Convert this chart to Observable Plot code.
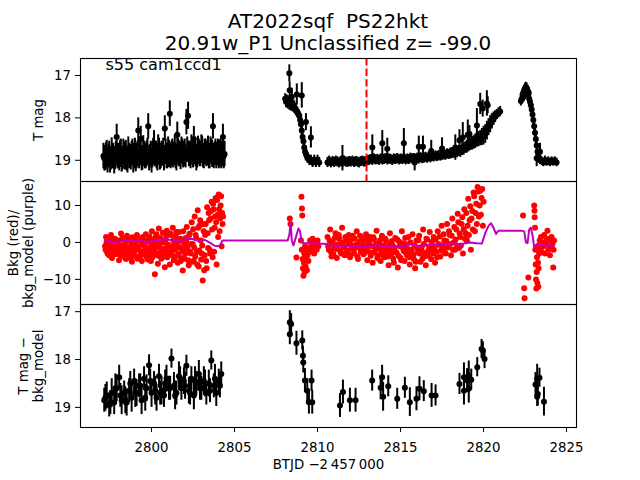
<!DOCTYPE html>
<html><head><meta charset="utf-8">
<script src="https://cdn.jsdelivr.net/npm/d3@7"></script>
<script src="https://cdn.jsdelivr.net/npm/@observablehq/plot@0.6"></script>
<style>
body{margin:0;background:#fff}
#fig{position:relative;width:640px;height:480px;font-family:"DejaVu Sans",sans-serif;color:#000;overflow:hidden}
.t{position:absolute;left:0;width:656px;text-align:center;font-size:20px;line-height:22px;white-space:pre}
.p{position:absolute;left:0}
</style></head><body>
<div id="fig"></div>
<script>
// ---------- text ----------
const titleLines = ["AT2022sqf  PS22hkt", "20.91w_P1 Unclassified z= -99.0"];
const panelNote = "s55 cam1ccd1";
const yLabels = ["T mag", "Bkg (red)/\nbkg_model (purple)", "T mag \u2212\nbkg_model"];
const xLabel = "BTJD \u22122\u2009457\u2009000";
const xTicks = [2800, 2805, 2810, 2815, 2820, 2825];
const ticksTop = [17, 18, 19];
const ticksMid = [-10, 0, 10];
const ticksBot = [17, 18, 19];
const discoveryT = 2812.95;

// ---------- top panel: T mag (regular cadence segments: [mag, err]) ----------
const topA_t0 = 2797.1, topA_dt = 0.1;
const topA = [[18.9,.3],[18.95,.3],[18.85,.32],[18.9,.28],[19.0,.3],[18.8,.33],[18.9,.3],[18.95,.27],[18.45,.3],[18.9,.3],[18.85,.32],
[19.0,.28],[18.8,.3],[18.9,.33],[18.95,.3],[18.75,.3],[18.9,.27],[18.85,.3],[19.0,.3],[18.8,.32],[18.9,.3],
[18.3,.3],[18.85,.28],[18.95,.3],[18.75,.33],[18.9,.3],[18.85,.3],[18.2,.3],[18.9,.28],[19.0,.3],[18.8,.32],
[18.85,.3],[18.9,.3],[18.7,.3],[18.95,.28],[18.85,.3],[18.8,.32],[18.25,.3],[18.9,.3],[18.75,.3],[17.9,.3],
[18.85,.3],[18.9,.28],[18.7,.3],[18.95,.3],[18.8,.32],[18.85,.3],[18.75,.3],[18.9,.28],[18.8,.3],[18.1,.3],
[17.95,.32],[18.85,.3],[18.7,.3],[18.9,.28],[18.8,.3],[18.95,.3],[18.75,.32],[18.85,.3],[18.7,.3],[18.9,.28],
[18.8,.3],[18.85,.3],[18.75,.32],[18.9,.3],[18.8,.3],[18.2,.3],[18.85,.28],[18.9,.3],[18.8,.3],[18.85,.32],
[18.9,.3],[18.45,.3],[18.85,.3]];
const topA2_t0 = 2797.15, topA2_dt = 0.1;
const topA2 = [[18.95,.3],[18.9,.32],[19.0,.3],[18.85,.3],[18.95,.28],[18.9,.3],[19.0,.32],[18.85,.3],[18.9,.3],[18.95,.3],
[18.8,.3],[18.95,.28],[18.9,.3],[18.85,.32],[19.0,.3],[18.9,.3],[18.95,.28],[18.8,.3],[18.9,.3],[18.95,.32],
[18.85,.3],[18.9,.3],[18.5,.3],[18.95,.28],[18.85,.3],[18.9,.3],[18.8,.32],[18.95,.3],[18.85,.3],[18.9,.28],
[18.6,.3],[18.85,.3],[18.95,.3],[18.8,.32],[18.9,.3],[18.85,.28],[18.95,.3],[18.8,.3],[18.9,.3],[18.85,.32],
[18.9,.3],[18.8,.3],[18.85,.28],[18.9,.3],[18.4,.3],[18.85,.3],[18.9,.32],[18.8,.3],[18.85,.3],[18.9,.28],
[18.75,.3],[18.85,.3],[18.9,.3],[18.8,.32],[18.5,.3],[18.85,.3],[18.9,.28],[18.8,.3],[18.85,.3],[18.75,.32],
[18.9,.3],[18.8,.3],[18.85,.28],[18.9,.3],[18.75,.3],[18.85,.32],[18.9,.3],[18.8,.3],[18.85,.28],[18.9,.3],
[18.8,.3],[18.85,.3],[18.9,.3]];
const topC_t0 = 2810.6, topC_dt = 0.1;
const topC = [[19.05,.12],[19.02,.12],[19.06,.12],[19.03,.12],[19.05,.12],[19.02,.12],[19.04,.12],[19.06,.12],[19.03,.12],[19.05,.12],
[19.02,.12],[19.04,.12],[19.05,.12],[19.03,.12],[19.04,.12],[19.02,.12],[19.05,.12],[19.03,.12],[19.04,.12],[19.06,.12],
[19.03,.12],[19.02,.12],[19.04,.12],[19.03,.12],[19.01,.12],[19.0,.12],[18.98,.12],[19.0,.12],[18.97,.12],[18.99,.12],
[18.98,.12],[19.0,.12],[18.97,.12],[18.99,.12],[18.98,.12],[18.96,.12],[18.99,.12],[18.97,.12],[18.98,.12],[19.0,.12],
[18.97,.12],[18.98,.12],[18.96,.12],[18.99,.12],[18.97,.12],[18.98,.12],[18.96,.12],[18.99,.12],[18.97,.12],[18.98,.12],
[18.95,.12],[18.97,.12],[18.96,.12],[18.98,.12],[18.95,.12],[18.97,.12],[18.94,.12],[18.96,.12],[18.95,.12],[18.93,.12],
[18.95,.12],[18.92,.12],[18.94,.12],[18.91,.12],[18.92,.12],[18.9,.12],[18.91,.12],[18.89,.12],[18.9,.12],[18.88,.12],
[18.87,.12],[18.88,.12],[18.85,.12],[18.86,.12],[18.84,.13],[18.83,.13],[18.82,.13],[18.8,.13],[18.81,.13],[18.78,.13],
[18.79,.14],[18.75,.14],[18.74,.14],[18.7,.14],[18.68,.15],[18.65,.15],[18.62,.15],[18.6,.16],[18.58,.16],[18.55,.17],
[18.52,.17],[18.5,.18],[18.48,.18],[18.45,.2],[18.42,.22],[18.38,.22],[18.3,.22],[18.22,.2],[18.15,.2],[18.08,.18],
[18.02,.16],[17.97,.14],[17.92,.12],[17.88,.12],[17.85,.12]];
// irregular points: [t, mag, err]
const topB = [[2808.05,17.55,.12],[2808.1,17.62,.14],[2808.15,17.58,.12],[2808.2,17.65,.14],[2808.25,17.6,.12],[2808.3,17.68,.14],
[2808.35,17.65,.12],[2808.4,17.7,.14],[2808.45,17.68,.12],[2808.5,17.72,.14],[2808.55,17.7,.12],[2808.6,17.75,.14],[2808.65,17.78,.12],
[2808.7,17.82,.12],[2808.75,17.85,.12],[2808.8,17.88,.12],[2808.85,17.92,.12],[2808.9,17.95,.12],[2808.95,18.05,.12],[2809.0,18.15,.12],
[2809.05,18.3,.12],[2809.1,18.45,.12],[2809.15,18.55,.12],[2809.2,18.7,.12],[2809.25,18.8,.12],[2809.3,18.85,.12],[2809.35,18.9,.12],
[2809.4,18.95,.12],[2809.5,19.0,.12],[2809.6,19.0,.12],[2809.7,19.05,.12],[2809.8,19.0,.12],[2809.9,19.05,.12],[2810.0,19.0,.12],
[2810.1,19.05,.12],[2808.3,16.95,.2],[2808.32,17.35,.2],[2808.45,17.5,.2],[2808.75,17.45,.25],[2809.05,17.47,.3],
[2809.3,18.1,.2],[2809.6,18.46,.25]];
const topCextra = [[2811.5,18.95,.3],[2813.3,18.7,.3],[2813.9,18.6,.3],[2814.2,18.73,.25],[2815.2,18.6,.35],[2815.85,19.05,.2],
[2816.1,18.68,.25],[2816.35,18.68,.25],[2816.85,18.78,.25],[2817.5,18.72,.25],[2818.3,18.7,.3],[2818.55,18.53,.25],
[2818.75,18.46,.35],[2819.05,18.4,.35],[2819.15,18.38,.2],[2819.6,18.18,.4],[2819.8,17.67,.25],[2819.95,17.78,.2],
[2820.2,17.66,.3],[2820.25,17.7,.2]];
const topD = [[2822.25,17.6,.12],[2822.3,17.55,.12],[2822.35,17.45,.12],[2822.4,17.4,.12],[2822.42,17.5,.12],[2822.45,17.35,.12],
[2822.5,17.3,.12],[2822.55,17.28,.12],[2822.58,17.38,.12],[2822.6,17.3,.12],[2822.65,17.35,.12],[2822.7,17.45,.12],[2822.72,17.4,.12],
[2822.75,17.55,.12],[2822.8,17.62,.12],[2822.85,17.7,.12],[2822.9,17.8,.12],[2822.95,17.92,.12],[2823.0,18.05,.12],[2823.05,18.2,.12],
[2823.1,18.35,.12],[2823.15,18.5,.12],[2823.2,18.65,.12],[2823.25,18.8,.12],[2823.3,18.9,.12],[2823.35,18.95,.1],[2823.4,19.0,.1],
[2823.5,19.02,.1],[2823.6,19.05,.1],[2823.7,19.0,.1],[2823.8,19.04,.1],[2823.9,19.02,.1],[2824.0,19.05,.1],[2824.1,19.02,.1],
[2824.2,19.04,.1],[2824.3,19.02,.1],[2824.4,19.05,.1],[2823.2,18.95,.2],[2823.4,18.8,.2]];

// ---------- middle panel: background (red) and background model (purple) ----------
const bkgA_t0 = 2797.2, bkgA_dt = 0.06;
const bkgA = [-1,1.5,-2.5,0.5,-3.5,-1.2,2.0,-4.2,-0.5,-2.8,1.0,-1.8,-3.0,0.2,-4.8,-1.5,2.4,-2.2,0.8,-3.6,
-0.8,-4.5,1.8,-2.0,-3.2,0.4,-1.0,-5.2,1.2,-2.6,-0.3,-3.8,2.0,-1.4,-4.0,0.6,-2.4,-5.0,1.5,-0.9,
-3.0,2.2,-1.6,-4.6,0.8,-2.2,-5.0,3.0,-0.5,-3.4,-8.6,1.4,-1.2,-5.8,3.8,-2.8,0.2,-4.2,2.6,-1.8,
-6.7,0.8,3.2,-3.0,-1.0,-6.0,2.0,-2.4,4.0,-4.8,-0.6,1.6,-3.6,-5.5,2.8,-1.4,-5.0,0.4,-7.6,-2.2,
-4.4,1.2,4.2,-1.0,-6.2,2.4,-3.0,5.5,-0.4,-5.0,7.0,2.0,-2.6,8.7,-6.5,4.6,0.5,-3.0,-10.3,3.0,
-3.5,5.0,-7.0,2.5,8.0,-2.0,6.5,11.0,-4.0,9.0,4.0,12.0,-6.0,7.5,13.0,3.0,10.0,-1.0,5.0];
const bkgA2_t0 = 2797.23, bkgA2_dt = 0.06;
const bkgA2 = [-2.0,0.0,-3.0,-1.0,0.8,-2.5,-3.8,-0.5,1.0,-1.8,-3.2,-0.2,-2.8,0.5,-1.5,-3.5,-0.8,1.2,-2.2,-4.0,
0.2,-1.6,-3.0,0.8,-2.4,-4.2,-0.6,1.4,-1.2,-3.6,-2.0,0.4,-4.4,-1.0,1.0,-2.6,-3.4,-0.4,0.6,-2.8,
-1.4,-3.8,0.2,-2.0,1.6,-3.2,-0.8,-4.0,0.8,-1.8,-2.8,2.2,-0.4,-3.6,-1.2,1.2,-4.4,-2.2,0.0,-3.0,
-1.6,1.8,-4.0,-0.6,-2.6,2.4,-3.4,-1.0,0.6,-4.6,-2.0,2.8,-0.2,-3.2,-1.4,1.0,-4.2,-2.4,3.0,-0.8,
-3.0,0.4,-1.8,-4.8,2.0,-2.6,-0.4,-5.2,3.6,-1.4,-3.8,1.2,-6.0,4.0,-2.2,6.0,-4.6,-0.8,5.0,-7.5,
2.0,-5.0,9.5,-1.5,6.0,-3.0,8.5,3.5,10.5,-2.5,7.0,5.5,11.5,1.5,9.0,6.5,12.5,8.0,7.0];
const bkgC_t0 = 2810.6, bkgC_dt = 0.08;
const bkgC = [1.5,-2.0,3.5,-3.8,0.0,-1.5,2.5,-4.2,-0.5,1.0,-2.8,4.0,-1.2,-3.5,0.8,
-2.2,2.0,-4.0,-0.8,1.8,-3.0,-1.5,3.0,-4.5,0.2,-2.5,1.2,-3.2,-1.0,2.2,
-4.8,-0.5,1.5,-2.8,-5.5,0.8,-1.8,3.2,-3.5,-0.2,-5.0,1.8,-2.2,-4.0,0.5,
-1.5,-6.2,2.5,-3.2,-0.8,-5.5,1.2,-2.8,-6.8,0.2,-4.2,3.0,-1.8,-5.0,-0.5,
-3.5,1.5,-6.0,-2.0,2.2,-4.5,-7.0,0.5,-2.8,1.8,-5.2,-1.2,3.5,-3.8,-6.2,
0.8,-2.2,2.8,-4.5,-1.0,1.5,-5.5,-2.5,3.0,-0.5,-3.8,4.5,-1.5,0.5,-3.0,
5.0,-1.0,2.0,-3.5,6.5,0.0,-2.0,3.5,7.8,-1.5,1.5,5.0,-3.0,9.0,2.5,
0.5,11.8,6.0,-2.0,8.5,13.5,3.0,10.5,15.0,7.0,14.0,12.0,4.5];
const bkgC2_t0 = 2810.64, bkgC2_dt = 0.08;
const bkgC2 = [-1.0,0.5,-2.5,-0.2,-3.2,1.2,-1.8,-0.8,2.0,-2.2,-3.0,0.0,-1.4,1.5,-2.6,
-0.4,-3.4,0.6,-1.6,-2.8,1.0,-0.6,-3.8,-1.2,1.8,-2.0,-0.2,-3.0,0.8,-1.8,
-2.4,0.2,-3.6,-1.0,1.4,-2.8,-0.4,-4.2,-1.6,0.6,-2.2,-3.4,-0.8,1.0,-2.6,
-3.8,-0.6,-2.0,0.4,-4.4,-1.4,-2.6,0.8,-3.6,-1.0,-4.8,-0.2,-2.4,1.2,-3.2,
-1.8,-4.0,0.0,-2.6,-3.4,-0.8,-5.2,-1.6,0.6,-3.0,-2.0,-4.4,-0.4,-2.8,1.0,
-3.6,-1.2,-2.4,0.2,-3.0,-1.8,0.8,-4.0,-0.6,1.6,-2.2,-1.0,2.2,-2.8,0.4,
-1.4,3.0,-0.4,1.8,-2.0,4.2,0.8,-1.0,5.5,2.4,-0.8,6.8,3.6,1.0,8.0,
4.5,2.0,9.8,6.5,3.5,12.5,8.0,5.0,13.8,10.0,7.5,14.5,11.0];
const bkgB = [[2808.33,6.5],[2808.37,5.0],[2808.73,-4.1],[2809.03,12.4],[2809.06,9.2],[2809.08,7.3],[2809.0,0.5],[2809.05,-2.0],
[2809.1,-4.5],[2809.12,-7.0],[2809.15,-9.0],[2809.18,-5.5],[2809.2,-3.0],[2809.22,-8.0],[2809.25,-1.0],[2809.28,-6.5],
[2809.3,-4.0],[2809.33,-2.0],[2809.36,-7.5],[2809.4,-3.5],[2809.45,-5.0],[2809.5,-1.5],[2809.55,0.5],[2809.6,-2.5],
[2809.65,-0.5],[2809.7,1.0],[2809.75,-1.5],[2809.8,-3.0],[2809.85,0.0],[2809.9,-1.0],[2809.95,-2.0],[2810.0,0.5],[2810.05,-1.0]];
const bkgD = [[2822.38,7.3],[2822.45,-12.4],[2822.47,-15.1],[2822.7,-9.5],[2823.05,10.0],[2823.07,8.6],[2823.08,6.8],[2823.1,4.0],
[2823.12,-2.0],[2823.14,-6.0],[2823.16,-10.0],[2823.18,-12.5],[2823.2,-8.0],[2823.22,-4.0],[2823.24,-11.0],[2823.26,-1.0],
[2823.28,-5.5],[2823.3,-12.0],[2823.32,-7.0],[2823.35,-3.0],[2823.38,0.5],[2823.42,-1.5],[2823.46,1.5],[2823.5,-2.5],
[2823.55,0.0],[2823.6,-1.0],[2823.65,2.0],[2823.7,-3.0],[2823.75,-0.5],[2823.8,1.0],[2823.85,3.2],[2823.9,-2.0],
[2823.95,0.5],[2824.0,-3.5],[2824.05,-1.0],[2824.1,1.5],[2824.15,-0.5],[2824.2,-6.8],[2824.22,-2.0],[2824.25,0.5]];
const bkgModel = [[2797.2,0.8],[2797.4,0.5],[2797.6,0.2],[2797.8,0.0],[2798.0,0.3],[2798.3,0.5],[2798.6,0.4],[2799.0,0.4],
[2799.5,0.3],[2799.8,0.1],[2800.0,0.5],[2800.3,0.4],[2800.6,0.8],[2800.9,0.9],[2801.2,0.6],[2801.5,0.8],[2801.8,0.6],
[2802.1,0.9],[2802.4,1.0],[2802.7,0.6],[2802.9,0.3],[2803.1,0.8],[2803.3,0.5],[2803.6,-0.3],[2803.8,-0.9],[2804.0,-1.0],
[2804.15,-0.8],[2804.25,0.4],[2804.3,0.5],[2808.2,0.5],[2808.3,2.0],[2808.38,5.5],[2808.45,0.5],[2808.55,-0.8],[2808.7,1.5],
[2808.85,3.8],[2808.95,3.0],[2809.05,0.0],[2809.2,-0.2],[2809.5,-0.2],[2810.0,-0.3],[2810.6,-0.4],[2810.8,-0.8],[2811.2,-0.9],
[2811.6,-1.0],[2812.0,-1.1],[2812.5,-1.0],[2813.0,-1.2],[2813.4,-1.0],[2813.6,-0.5],[2813.8,-1.1],[2814.2,-1.2],[2814.6,-0.9],
[2815.0,-1.1],[2815.4,-0.7],[2815.7,-0.5],[2816.0,-0.9],[2816.4,-0.8],[2816.8,-0.5],[2817.2,-0.6],[2817.6,-0.4],[2818.0,-0.3],
[2818.4,-0.2],[2818.6,-1.0],[2818.8,-0.3],[2819.2,0.0],[2819.6,-0.2],[2819.9,-0.3],[2820.1,2.5],[2820.3,4.5],[2820.45,5.2],
[2820.6,4.0],[2820.75,2.3],[2820.9,3.2],[2822.3,3.2],[2822.45,3.0],[2822.55,0.0],[2822.65,-0.2],[2822.75,3.5],[2822.85,4.0],
[2822.95,2.0],[2823.05,-1.3],[2823.2,-0.5],[2823.5,-0.4],[2823.8,-0.8],[2824.0,-0.7],[2824.2,-1.2]];

// ---------- bottom panel: T mag - bkg_model (binned) ----------
const botA_t0 = 2797.15, botA_dt = 0.15;
const botA = [[18.85,.25],[18.75,.28],[18.95,.25],[18.7,.3],[18.9,.25],[18.6,.28],[18.37,.25],[18.85,.3],[18.7,.25],[18.9,.28],
[18.65,.25],[18.8,.3],[18.45,.25],[18.7,.28],[18.55,.25],[18.85,.3],[18.4,.25],[18.6,.28],[18.12,.22],[18.7,.3],
[18.5,.25],[18.8,.28],[18.35,.25],[18.65,.3],[18.75,.25],[18.4,.28],[18.6,.25],[17.98,.2],[18.55,.28],[18.7,.25],
[18.35,.3],[18.6,.25],[18.45,.28],[18.13,.22],[18.65,.28],[18.4,.25],[18.75,.3],[18.5,.25],[18.3,.28],[18.6,.25],
[18.45,.3],[18.7,.25],[18.5,.28],[18.02,.2],[18.55,.25],[18.7,.28],[18.45,.25],[18.3,.25]];
const botA2_t0 = 2797.22, botA2_dt = 0.3;
const botA2 = [[18.8,.28],[18.9,.25],[18.6,.3],[18.75,.25],[18.85,.28],[18.5,.25],[18.7,.3],[18.55,.25],[18.8,.28],[18.45,.25],
[18.65,.3],[18.7,.25],[18.5,.28],[18.6,.25],[18.75,.3],[18.4,.25],[18.55,.28],[18.7,.25],[18.45,.3],[18.6,.25],
[18.5,.28],[18.65,.25],[18.4,.3],[18.55,.25]];
const botB = [[2808.33,17.22,.24],[2808.41,17.26,.22],[2808.33,17.47,.22],[2808.73,17.66,.25],[2809.08,17.6,.2],
[2809.12,17.92,.2],[2809.14,18.06,.22],[2809.24,18.44,.25],[2809.38,18.65,.25],[2809.48,18.89,.25],[2809.64,18.44,.22],[2809.68,18.89,.25]];
const botC = [[2811.35,18.96,.25],[2811.53,18.68,.25],[2811.95,18.85,.25],[2812.29,18.85,.25],[2813.29,18.44,.22],[2813.89,18.37,.25],
[2813.8,18.59,.25],[2813.95,18.78,.3],[2814.26,18.56,.22],[2814.8,18.82,.22],[2815.26,18.59,.22],[2815.56,18.89,.3],
[2815.96,18.82,.25],[2816.14,18.61,.25],[2816.4,18.66,.22],[2816.87,18.75,.25],[2817.11,18.75,.22],[2818.55,18.51,.22],
[2818.82,18.37,.3],[2818.82,18.65,.3],[2819.01,18.44,.25],[2819.11,18.33,.3],[2819.11,18.61,.3],[2819.26,18.42,.22],
[2819.62,18.16,.2],[2819.88,17.78,.2],[2819.96,17.81,.18],[2820.06,17.99,.2]];
const botD = [[2823.13,18.52,.25],[2823.23,18.4,.3],[2823.27,18.72,.25],[2823.37,18.38,.2],[2823.23,18.78,.2],[2823.64,18.88,.3]];

// ---------- build tables ----------
const fromCadence = (t0, dt, arr) => arr.map((d, i) => ({t: t0 + i * dt, m: d[0], e: d[1]}));
const fromTriples = arr => arr.map(d => ({t: d[0], m: d[1], e: d[2]}));
const fromCadenceV = (t0, dt, arr) => arr.map((v, i) => ({t: t0 + i * dt, v}));
const fromPairs = arr => arr.map(d => ({t: d[0], v: d[1]}));

const topData = [...fromCadence(topA_t0, topA_dt, topA), ...fromCadence(topA2_t0, topA2_dt, topA2), ...fromTriples(topB),
  ...fromCadence(topC_t0, topC_dt, topC), ...fromTriples(topCextra), ...fromTriples(topD)];
const bkgData = [...fromCadenceV(bkgA_t0, bkgA_dt, bkgA), ...fromCadenceV(bkgA2_t0, bkgA2_dt, bkgA2), ...fromPairs(bkgB),
  ...fromCadenceV(bkgC_t0, bkgC_dt, bkgC), ...fromCadenceV(bkgC2_t0, bkgC2_dt, bkgC2), ...fromPairs(bkgD)];
const modelData = fromPairs(bkgModel);
const botData = [...fromCadence(botA_t0, botA_dt, botA), ...fromCadence(botA2_t0, botA2_dt, botA2), ...fromTriples(botB),
  ...fromTriples(botC), ...fromTriples(botD)];

// ---------- layout ----------
const FONT = "DejaVu Sans";
const TICK_FS = 13.33;
const X_DOMAIN = [2795.72, 2825.6];
const PANEL_H = 123;
const PAD = 10;
const fmt = d => d < 0 ? "\u2212" + (-d) : String(d);

function errMarks(data) {
  return [
    Plot.ruleX(data, {x: "t", y1: d => d.m - d.e, y2: d => d.m + d.e, stroke: "black", strokeWidth: 2, clip: true}),
    Plot.dot(data, {x: "t", y: "m", r: 3, fill: "black", stroke: "none", clip: true})
  ];
}

function makePanel({yDomain, reverse, yTicks, marks, label, labelDx, bottom}) {
  const mb = bottom ? 60 : PAD;
  return Plot.plot({
    width: 640,
    height: PANEL_H + PAD + mb,
    marginLeft: 80, marginRight: 64, marginTop: PAD, marginBottom: mb,
    style: {background: "none", overflow: "visible", fontFamily: FONT, fontSize: TICK_FS + "px", color: "black"},
    x: bottom
      ? {domain: X_DOMAIN, ticks: xTicks, tickSize: 5, tickPadding: 10, tickFormat: fmt, label: null}
      : {domain: X_DOMAIN, axis: null},
    y: {domain: yDomain, reverse, ticks: yTicks, tickSize: 5, tickPadding: 4.5, tickFormat: fmt, label: null},
    marks: [
      ...marks,
      Plot.frame({stroke: "black", strokeWidth: 1.1}),
      Plot.text([label], {frameAnchor: "left", dx: labelDx, rotate: -90, textAnchor: "middle", lineAnchor: "middle",
        fontSize: TICK_FS, lineHeight: 1.15, fill: "black"}),
      ...(bottom ? [Plot.text([xLabel], {frameAnchor: "bottom", dy: 37, lineAnchor: "middle", fontSize: TICK_FS, fill: "black"})] : [])
    ]
  });
}

const figEl = document.getElementById("fig");
titleLines.forEach((s, i) => {
  const d = document.createElement("div");
  d.className = "t";
  d.style.top = (10 + 22 * i) + "px";
  d.textContent = s;
  figEl.appendChild(d);
});

const topPlot = makePanel({
  yDomain: [16.6, 19.5], reverse: true, yTicks: ticksTop, label: yLabels[0], labelDx: -42,
  marks: [
    ...errMarks(topData),
    Plot.ruleX([discoveryT], {stroke: "red", strokeWidth: 2, strokeDasharray: "7.4,3.2"}),
    Plot.text([panelNote], {frameAnchor: "top-left", dx: 25, dy: 6, textAnchor: "start", lineAnchor: "middle", fontSize: 16, fill: "black"})
  ]
});
const midPlot = makePanel({
  yDomain: [-16.8, 16.5], reverse: false, yTicks: ticksMid, label: yLabels[1], labelDx: -60,
  marks: [
    Plot.dot(bkgData, {x: "t", y: "v", r: 3, fill: "red", stroke: "none", clip: true}),
    Plot.line(modelData, {x: "t", y: "v", stroke: "#bf00bf", strokeWidth: 2, clip: true})
  ]
});
const botPlot = makePanel({
  yDomain: [16.85, 19.42], reverse: true, yTicks: ticksBot, label: yLabels[2], labelDx: -50, bottom: true,
  marks: [...errMarks(botData)]
});

[[topPlot, 58], [midPlot, 181], [botPlot, 304]].forEach(([svg, y]) => {
  svg.classList.add("p");
  svg.style.position = "absolute";
  svg.style.top = (y - PAD) + "px";
  svg.style.left = "0px";
  figEl.appendChild(svg);
});
</script>
</body></html>
